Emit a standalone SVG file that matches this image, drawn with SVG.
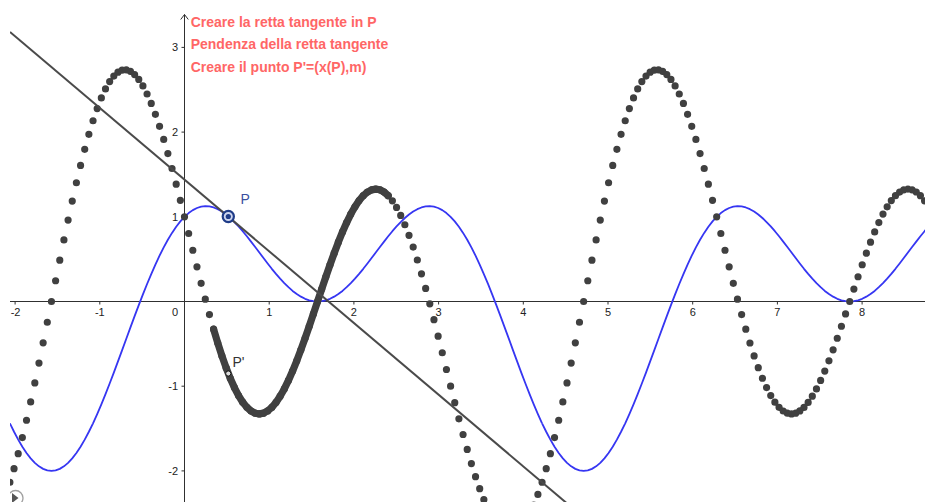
<svg xmlns="http://www.w3.org/2000/svg" xmlns:xlink="http://www.w3.org/1999/xlink" width="925" height="502" viewBox="0 0 925 502">
<style>
.ax{stroke:#303030;stroke-width:1;fill:none}
.tl{font-family:"Liberation Sans",Arial,sans-serif;font-size:11px;fill:#222}
.rt{font-family:"Liberation Sans",Arial,sans-serif;font-size:14px;font-weight:bold;fill:#ff6666}
.fn{fill:none;stroke:#3636f2;stroke-width:1.8;vector-effect:non-scaling-stroke;stroke-linejoin:round}
.dots{fill:none;stroke:#404040;stroke-width:7.2;stroke-linecap:round;stroke-linejoin:round;vector-effect:non-scaling-stroke}
</style>
<defs>
<clipPath id="view"><rect x="10" y="0" width="915" height="502"/></clipPath>
</defs>
<rect width="925" height="502" fill="#ffffff"/>
<g id="axes" class="ax">
<path d="M10,301.5H925M184.5,502V14.5M180.7,19.5L184.5,14.5L188.3,19.5"/>
<path d="M15.1,301.5v3M99.8,301.5v3M269.2,301.5v3M353.9,301.5v3M438.6,301.5v3M523.3,301.5v3M608,301.5v3M692.7,301.5v3M777.4,301.5v3M862.1,301.5v3"/>
<path d="M181.5,47.4h3M181.5,132.1h3M181.5,216.8h3M181.5,386.2h3M181.5,470.9h3"/>
</g>
<g id="axis-labels" class="tl">
<text x="15.6" y="316" text-anchor="middle">-2</text>
<text x="99.8" y="316" text-anchor="middle">-1</text>
<text x="175" y="316" text-anchor="middle">0</text>
<text x="269.2" y="316" text-anchor="middle">1</text>
<text x="353.9" y="316" text-anchor="middle">2</text>
<text x="438.6" y="316" text-anchor="middle">3</text>
<text x="523.3" y="316" text-anchor="middle">4</text>
<text x="608" y="316" text-anchor="middle">5</text>
<text x="692.7" y="316" text-anchor="middle">6</text>
<text x="777.4" y="316" text-anchor="middle">7</text>
<text x="862.1" y="316" text-anchor="middle">8</text>
<text x="178" y="51.4" text-anchor="end">3</text>
<text x="178" y="136.1" text-anchor="end">2</text>
<text x="178" y="220.8" text-anchor="end">1</text>
<text x="178" y="390.2" text-anchor="end">-1</text>
<text x="178" y="474.9" text-anchor="end">-2</text>
</g>
<g clip-path="url(#view)">
<g id="plot" transform="matrix(4.1577,0,0,-84.7,184.5,301.5)">
<g id="function-f">
<path id="fcurve" class="fn" d="M-42,-1.438L-41,-1.538 -40,-1.631 -39,-1.715 -38,-1.788 -37,-1.852 -36,-1.905 -35,-1.946 -34,-1.976 -33,-1.994 -32,-2 -31,-1.994 -30,-1.976 -29,-1.946 -28,-1.905 -27,-1.852 -26,-1.788 -25,-1.715 -24,-1.631 -23,-1.538 -22,-1.438 -21,-1.329 -20,-1.214 -19,-1.094 -18,-0.968 -17,-0.839 -16,-0.707 -15,-0.574 -14,-0.439 -13,-0.305 -12,-0.173 -11,-0.043 -10,0.084 -9,0.207 -8,0.324 -7,0.436 -6,0.541 -5,0.639 -4,0.729 -3,0.810 -2,0.883 -1,0.946 0,1 1,1.044 2,1.079 3,1.104 4,1.119 5,1.125 6,1.122 7,1.110 8,1.090 9,1.062 10,1.027 11,0.986 12,0.938 13,0.886 14,0.830 15,0.770 16,0.707 17,0.643 18,0.578 19,0.513 20,0.449 21,0.386 22,0.326 23,0.270 24,0.217 25,0.169 26,0.125 27,0.088 28,0.057 29,0.032 30,0.014 31,0.004 32,0 33,0.004 34,0.014 35,0.032 36,0.057 37,0.088 38,0.125 39,0.169 40,0.217 41,0.270 42,0.326 43,0.386 44,0.449 45,0.513 46,0.578 47,0.643 48,0.707 49,0.770 50,0.830 51,0.886 52,0.938 53,0.986 54,1.027 55,1.062 56,1.090 57,1.110 58,1.122 59,1.125 60,1.119 61,1.104 62,1.079 63,1.044 64,1 65,0.946 66,0.883 67,0.810 68,0.729 69,0.639 70,0.541 71,0.436 72,0.324 73,0.207 74,0.084 75,-0.043 76,-0.173 77,-0.305 78,-0.439 79,-0.574 80,-0.707 81,-0.839 82,-0.968 83,-1.094 84,-1.214 85,-1.329 86,-1.438"/>
<use xlink:href="#fcurve" href="#fcurve" x="128"/>
</g>
<g id="trace">
<g id="traceAll">
<path id="dotsA" class="dots" d="M-42,-2.134h0M-41,-1.974h0M-40,-1.797h0M-39,-1.606h0M-38,-1.402h0M-37,-1.186h0M-36,-0.961h0M-35,-0.727h0M-34,-0.488h0M-33,-0.245h0M-32,0h0M-31,0.245h0M-30,0.488h0M-29,0.727h0M-28,0.961h0M-27,1.186h0M-26,1.402h0M-25,1.606h0M-24,1.797h0M-23,1.974h0M-22,2.134h0M-21,2.278h0M-20,2.403h0M-19,2.510h0M-18,2.596h0M-17,2.662h0M-16,2.707h0M-15,2.731h0M-14,2.735h0M-13,2.717h0M-12,2.679h0M-11,2.622h0M-10,2.545h0M-9,2.450h0M-8,2.338h0M-7,2.210h0M-6,2.068h0M-5,1.913h0M-4,1.746h0M-3,1.570h0M-2,1.385h0M-1,1.195h0M0,1h0M1,0.803h0M2,0.605h0M3,0.409h0M4,0.215h0M5,0.027h0M6,-0.154h0M50,1.189h0M51,1.111h0M52,1.016h0M53,0.906h0M54,0.781h0M55,0.642h0M56,0.490h0M57,0.327h0M58,0.154h0M59,-0.027h0M60,-0.215h0M61,-0.409h0M62,-0.605h0M63,-0.803h0M64,-1h0M65,-1.195h0M66,-1.385h0M67,-1.570h0M68,-1.746h0M69,-1.913h0M70,-2.068h0M71,-2.210h0M72,-2.338h0M73,-2.450h0M74,-2.545h0M75,-2.622h0M76,-2.679h0M77,-2.717h0M78,-2.735h0M79,-2.731h0M80,-2.707h0M81,-2.662h0M82,-2.596h0M83,-2.510h0M84,-2.403h0M85,-2.278h0"/>
<path id="dotsB" class="dots" d="M7,-0.327h0M8,-0.490h0M9,-0.642h0M10,-0.781h0M11,-0.906h0M12,-1.016h0M13,-1.111h0M14,-1.189h0M15,-1.249h0M16,-1.293h0M17,-1.319h0M18,-1.327h0M19,-1.318h0M20,-1.292h0M21,-1.250h0M22,-1.192h0M23,-1.118h0M24,-1.032h0M25,-0.932h0M26,-0.821h0M27,-0.700h0M28,-0.570h0M29,-0.434h0M30,-0.292h0M31,-0.147h0M32,0h0M33,0.147h0M34,0.292h0M35,0.434h0M36,0.570h0M37,0.700h0M38,0.821h0M39,0.932h0M40,1.032h0M41,1.118h0M42,1.192h0M43,1.250h0M44,1.292h0M45,1.318h0M46,1.327h0M47,1.319h0M48,1.293h0M49,1.249h0"/>
</g>
<path id="dense" class="dots" d="M7,-0.327L8,-0.490 9,-0.642 10,-0.781 11,-0.906 12,-1.016 13,-1.111 14,-1.189 15,-1.249 16,-1.293 17,-1.319 18,-1.327 19,-1.318 20,-1.292 21,-1.250 22,-1.192 23,-1.118 24,-1.032 25,-0.932 26,-0.821 27,-0.700 28,-0.570 29,-0.434 30,-0.292 31,-0.147 32,0 33,0.147 34,0.292 35,0.434 36,0.570 37,0.700 38,0.821 39,0.932 40,1.032 41,1.118 42,1.192 43,1.250 44,1.292 45,1.318 46,1.327 47,1.319 48,1.293 49,1.249"/>
<use xlink:href="#dotsA" href="#dotsA" x="128"/>
<use xlink:href="#dotsB" href="#dotsB" x="128"/>
</g>
</g>
<g id="tangent">
<line x1="10" y1="31.9" x2="580" y2="514.4" stroke="#4a4a4a" stroke-width="2"/>
</g>
<g id="play-button">
<circle cx="15.5" cy="498" r="7.5" fill="none" stroke="#a0a0a0" stroke-width="1.3"/>
<path d="M12,493L18.5,498L12,503Z" fill="#555555"/>
</g>
</g>
<g id="point-P">
<circle cx="228.3" cy="216.5" r="5.6" fill="#cdd5ee" stroke="#1f3c88" stroke-width="2.2"/>
<circle cx="228.3" cy="216.5" r="2.6" fill="#1f3c88"/>
<text x="240.5" y="204" font-family="'Liberation Sans',Arial,sans-serif" font-size="14" fill="#3a4f9e">P</text>
</g>
<g id="point-Pprime">
<circle cx="228.3" cy="373.5" r="2.6" fill="#dddddd" stroke="#111111" stroke-width="1"/>
<text x="232.5" y="367" font-family="'Liberation Sans',Arial,sans-serif" font-size="14" fill="#333333">P'</text>
</g>
<g id="instructions" class="rt">
<text x="190.7" y="27.3">Creare la retta tangente in P</text>
<text x="190.7" y="49.3">Pendenza della retta tangente</text>
<text x="190.7" y="71.7">Creare il punto P'=(x(P),m)</text>
</g>
</svg>
